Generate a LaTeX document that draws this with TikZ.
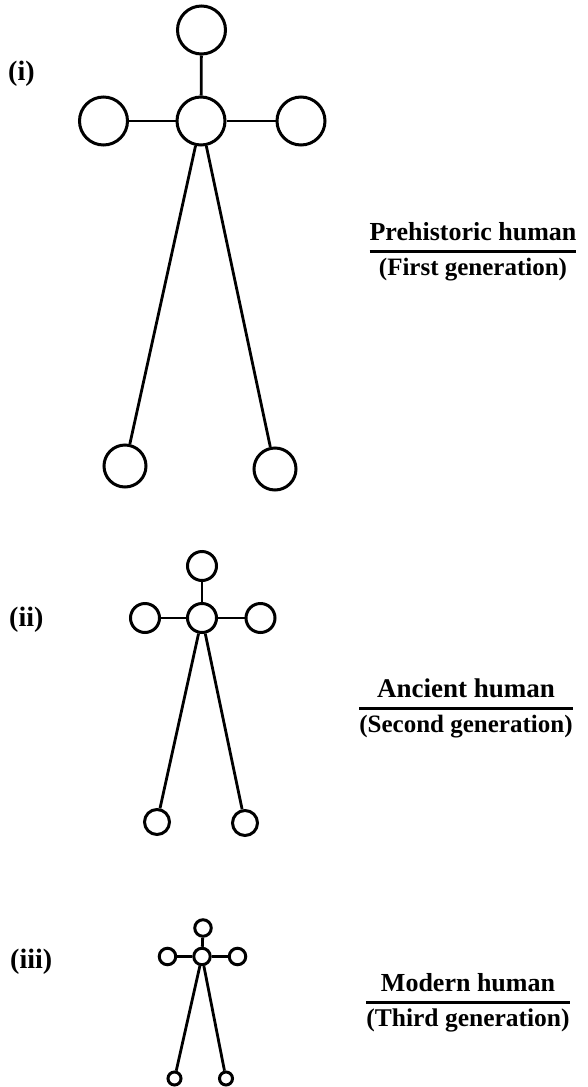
\documentclass[tikz,border=0pt]{standalone}
\usepackage{fontspec}
\setmainfont{Liberation Serif}
\begin{document}
\begin{tikzpicture}
    [
    x=1pt,y=-1pt,
    joint/.style={circle,draw,line width=3pt,inner sep=0pt},
    large/.style={minimum size=48},
    largefoot/.style={minimum size=42},
    medium/.style={minimum size=29},
    mediumfoot/.style={minimum size=25},
    small/.style={minimum size=16.5},
    smallfoot/.style={minimum size=13},
    limb/.style={line width=2.8pt},
    tag/.style={anchor=west,inner sep=0pt,font=\fontsize{28}{32}\selectfont\bfseries},
    caption/.style={anchor=north,inner sep=0pt,font=\fontsize{26}{32}\selectfont\bfseries}
    ]
    \useasboundingbox (0,0) rectangle (588,1087);
    \setlength{\arrayrulewidth}{2.8pt}
    % (i)
    \node (tag1) at (8,73.5) [tag] {(i)};
    \node (head1) at (201.5,30) [joint, large] {};
    \node (body1) at (201,121) [joint, large] {};
    \node (lhand1) at (103.5,121) [joint, large] {};
    \node (rhand1) at (301,121) [joint, large] {};
    \node (lfoot1) at (125,466) [joint, largefoot] {};
    \node (rfoot1) at (275,469) [joint, largefoot] {};
    \draw [limb] (head1) to (body1);
    \draw [limb] (lhand1) to (body1);
    \draw [limb] (body1) to (rhand1);
    \draw [limb] (body1) to (lfoot1);
    \draw [limb] (body1) to (rfoot1);
    \node (cap1) at (473,217.6) [caption]
      {\begin{tabular}{@{}c@{}}Prehistoric human\\\hline{\fontsize{25}{32}\selectfont(First generation)}\end{tabular}};
    % (ii)
    \node (tag2) at (9,620) [tag] {(ii)};
    \node (head2) at (202,566) [joint, medium] {};
    \node (body2) at (202,618) [joint, medium] {};
    \node (lhand2) at (145,618) [joint, medium] {};
    \node (rhand2) at (260.5,618) [joint, medium] {};
    \node (lfoot2) at (157,822) [joint, mediumfoot] {};
    \node (rfoot2) at (245,823) [joint, mediumfoot] {};
    \draw [limb] (head2) to (body2);
    \draw [limb] (lhand2) to (body2);
    \draw [limb] (body2) to (rhand2);
    \draw [limb] (body2) to (lfoot2);
    \draw [limb] (body2) to (rfoot2);
    \node (cap2) at (466,674.6) [caption]
      {\begin{tabular}{@{}c@{}}{\fontsize{27}{32}\selectfont Ancient human}\\\hline{\fontsize{25}{32}\selectfont(Second generation)}\end{tabular}};
    % (iii)
    \node (tag3) at (10,961.5) [tag] {(iii)};
    \node (head3) at (203,928) [joint, small] {};
    \node (body3) at (202,956.5) [joint, small] {};
    \node (lhand3) at (167.5,956.5) [joint, small] {};
    \node (rhand3) at (237.5,956.5) [joint, small] {};
    \node (lfoot3) at (174.5,1078.5) [joint, smallfoot] {};
    \node (rfoot3) at (226,1078.5) [joint, smallfoot] {};
    \draw [limb] (head3) to (body3);
    \draw [limb] (lhand3) to (body3);
    \draw [limb] (body3) to (rhand3);
    \draw [limb] (body3) to (lfoot3);
    \draw [limb] (body3) to (rfoot3);
    \node (cap3) at (468,968.6) [caption]
      {\begin{tabular}{@{}c@{}}Modern human\\\hline{\fontsize{25.5}{32}\selectfont(Third generation)}\end{tabular}};
\end{tikzpicture}
\end{document}
